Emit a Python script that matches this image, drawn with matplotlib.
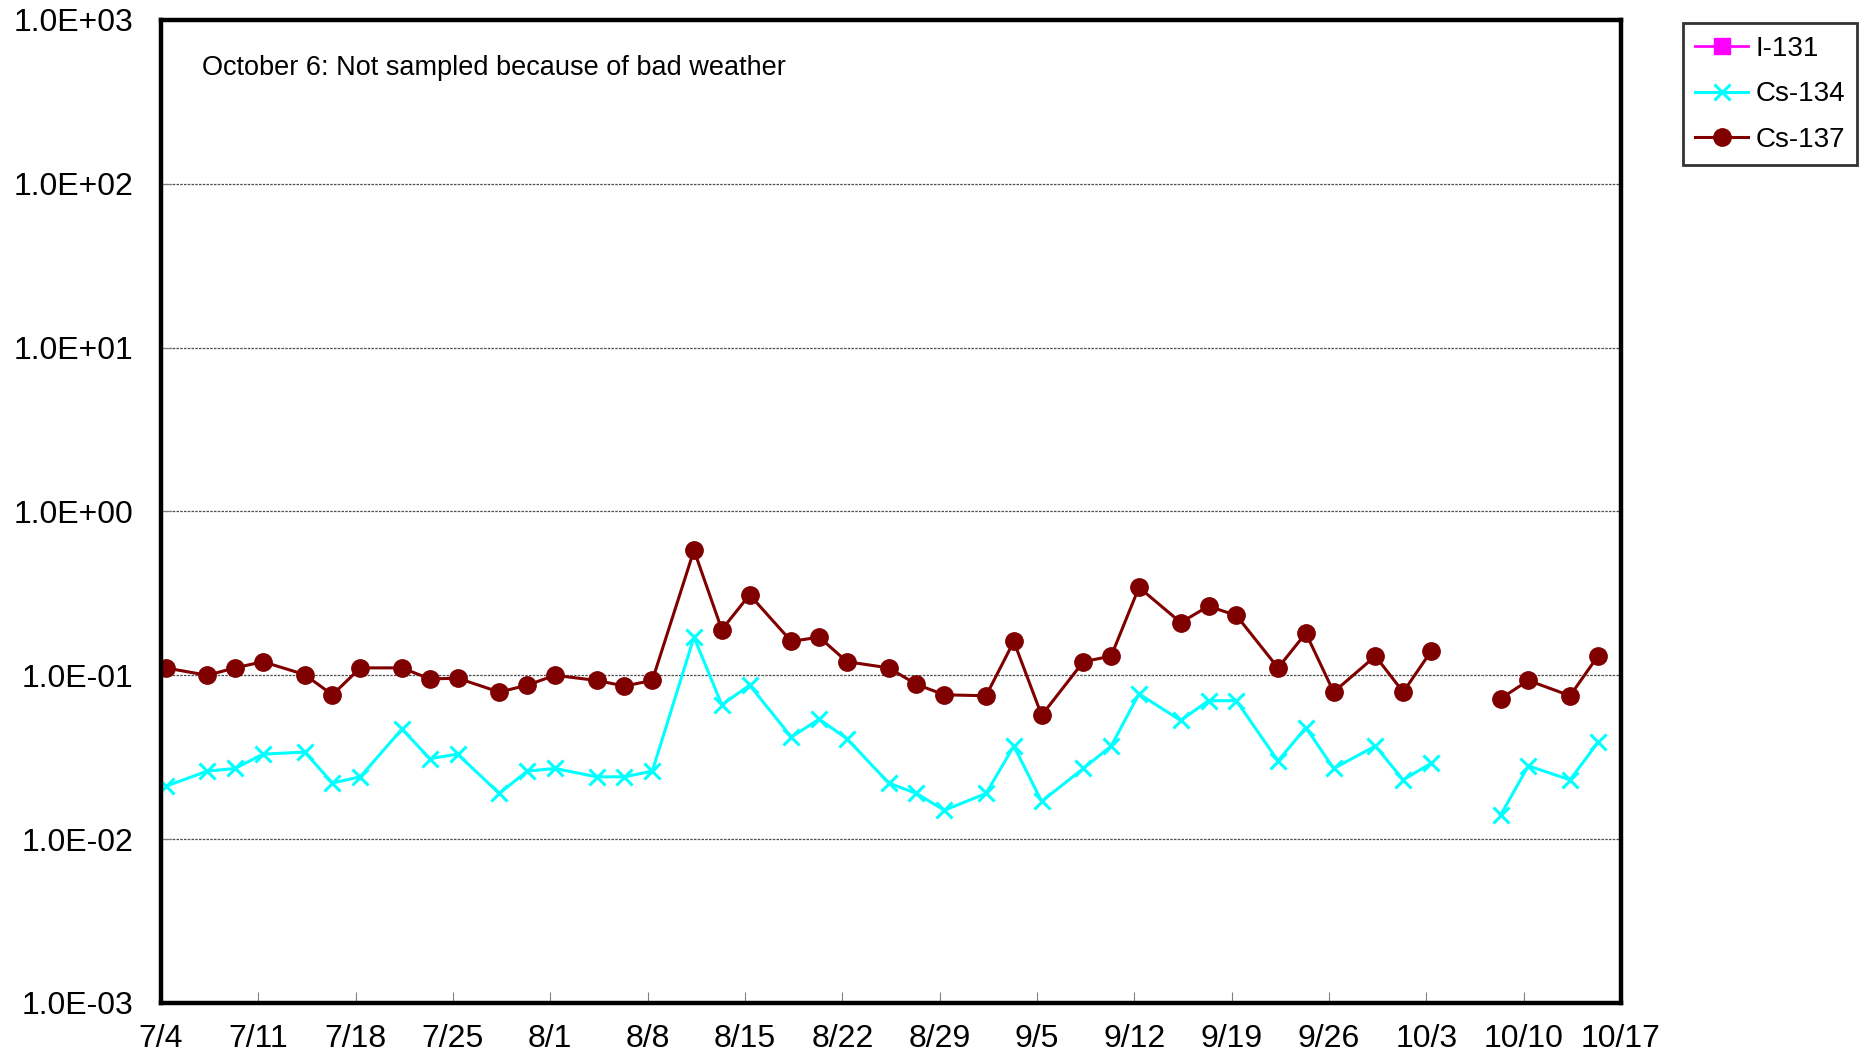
import datetime as dt
import numpy as np
import matplotlib
matplotlib.use('Agg')
import matplotlib.pyplot as plt
import matplotlib.dates as mdates
from matplotlib.ticker import FixedLocator, FuncFormatter, NullLocator

plt.rcParams['font.family'] = ['Liberation Sans', 'DejaVu Sans']

# sampling dates (2011), samples taken in the morning
dates = ['7/4', '7/7', '7/9', '7/11', '7/14', '7/16', '7/18', '7/21', '7/23', '7/25', '7/28', '7/30',
         '8/1', '8/4', '8/6', '8/8', '8/11', '8/13', '8/15', '8/18', '8/20', '8/22', '8/25', '8/27', '8/29',
         '9/1', '9/3', '9/5', '9/8', '9/10', '9/12', '9/15', '9/17', '9/19', '9/22', '9/24', '9/26', '9/29',
         '10/1', '10/3', '10/6', '10/8', '10/10', '10/13', '10/15']
sample_hour = 8

nan = np.nan
# I-131 not detected on any day
i131 = [nan] * len(dates)
cs134 = [0.021, 0.026, 0.027, 0.033, 0.034, 0.022, 0.024, 0.047, 0.031, 0.033, 0.019, 0.026,
         0.027, 0.024, 0.024, 0.026, 0.171, 0.066, 0.087, 0.042, 0.054, 0.041, 0.022, 0.019, 0.015,
         0.019, 0.037, 0.017, 0.027, 0.037, 0.077, 0.053, 0.070, 0.070, 0.030, 0.048, 0.027, 0.037,
         0.023, 0.029, nan, 0.014, 0.028, 0.023, 0.039]
cs137 = [0.111, 0.100, 0.111, 0.121, 0.101, 0.076, 0.111, 0.111, 0.095, 0.096, 0.079, 0.087,
         0.100, 0.093, 0.086, 0.093, 0.580, 0.190, 0.310, 0.161, 0.171, 0.121, 0.111, 0.088, 0.076,
         0.075, 0.161, 0.057, 0.121, 0.131, 0.344, 0.210, 0.264, 0.232, 0.111, 0.181, 0.079, 0.131,
         0.079, 0.140, nan, 0.072, 0.093, 0.075, 0.131]

x_start = dt.datetime(2011, 7, 4)
x_end = dt.datetime(2011, 10, 17)
note = 'October 6: Not sampled because of bad weather'


def to_dt(s):
    m, d = s.split('/')
    return dt.datetime(2011, int(m), int(d), sample_hour)


x = [to_dt(s) for s in dates]

fig = plt.figure(figsize=(18.65, 10.62), dpi=100)
ax = fig.add_axes([0.0863, 0.0556, 0.7829, 0.9256])

l1, = ax.plot(x, i131, color='#FF00FF', marker='s', markersize=11, lw=2, label='I-131')
l2, = ax.plot(x, cs134, color='#00FFFF', marker='x', markersize=12, mew=2.2, lw=2.2, label='Cs-134')
l3, = ax.plot(x, cs137, color='#800000', marker='o', markersize=12.5, lw=2.2, label='Cs-137')

ax.set_yscale('log')
ax.set_ylim(1e-3, 1e3)
ax.yaxis.set_major_locator(FixedLocator([10.0 ** k for k in range(-3, 4)]))
ax.yaxis.set_minor_locator(NullLocator())
ax.yaxis.set_major_formatter(FuncFormatter(lambda v, p: f'{v:.1E}'))

ax.set_xlim(x_start, x_end)
ticks = [x_start + dt.timedelta(days=7 * k) for k in range(16)]
ax.xaxis.set_major_locator(FixedLocator(mdates.date2num(ticks)))
ax.xaxis.set_major_formatter(FuncFormatter(
    lambda v, p: f'{mdates.num2date(v).month}/{mdates.num2date(v).day}'))

ax.grid(axis='y', color='0.3', linestyle=(0, (2, 1)), lw=0.9)
ax.tick_params(axis='x', direction='in', length=8, width=0.8, color='0.5', labelsize=23, pad=15)
ax.tick_params(axis='y', direction='in', length=8, width=0.8, color='0.5', labelsize=23, pad=20)
for sp in ax.spines.values():
    sp.set_linewidth(3.2)
    sp.set_color('black')

ax.text(0.028, 0.951, note, transform=ax.transAxes, fontsize=19.5, va='center', ha='left')

leg = fig.legend(handles=[l1, l2, l3], loc='upper left', bbox_to_anchor=(0.9024, 0.978),
                 fontsize=20, frameon=True, fancybox=False, edgecolor='black',
                 handlelength=1.9, handletextpad=0.25, labelspacing=0.7, borderpad=0.45,
                 borderaxespad=0)
leg.get_frame().set_linewidth(2)

fig.savefig('out.png', dpi=100)
